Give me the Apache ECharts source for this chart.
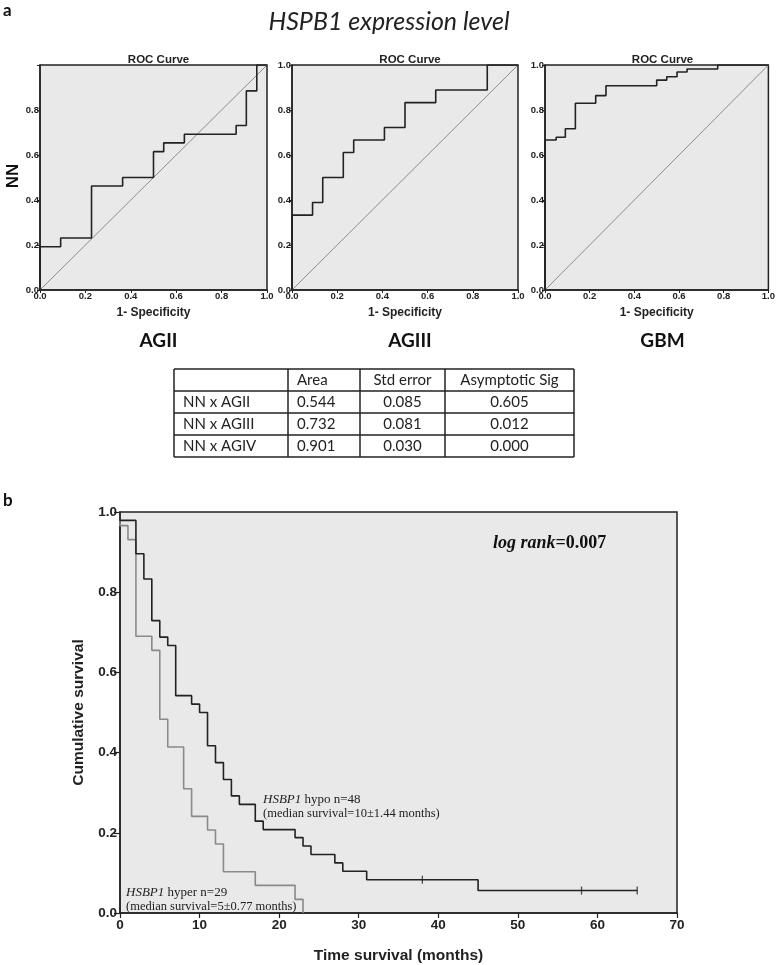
<!DOCTYPE html>
<html><head><meta charset="utf-8">
<script src="https://cdn.jsdelivr.net/npm/echarts@6/dist/echarts.min.js"></script>
<style>html,body{margin:0;padding:0;background:#fff}#c{width:778px;height:965px}</style>
</head><body><div id="c"></div>
<script>
// ---- ROC data (1-specificity, sensitivity) ----
const rocAGII_x = [0, 0, 0.091, 0.227, 0.364, 0.500, 0.545, 0.636, 0.864, 0.909, 0.955, 1.0];
const rocAGII_y = [0, 0.192, 0.231, 0.462, 0.500, 0.615, 0.654, 0.692, 0.731, 0.885, 1.0, 1.0];
const rocAGIII_x = [0, 0, 0.091, 0.136, 0.227, 0.273, 0.409, 0.500, 0.636, 0.864, 1.0];
const rocAGIII_y = [0, 0.333, 0.389, 0.500, 0.611, 0.667, 0.722, 0.833, 0.889, 1.0, 1.0];
const rocGBM_x = [0, 0, 0.050, 0.091, 0.136, 0.227, 0.273, 0.500, 0.545, 0.591, 0.636, 0.773, 1.0];
const rocGBM_y = [0, 0.667, 0.679, 0.717, 0.830, 0.864, 0.908, 0.933, 0.948, 0.969, 0.982, 1.0, 1.0];
const rocTitles = ['ROC Curve', 'ROC Curve', 'ROC Curve'];
const panelNames = ['AGII', 'AGIII', 'GBM'];

// ---- table ----
const tableHeader = ['', 'Area', 'Std error', 'Asymptotic Sig'];
const tableRowNames = ['NN x AGII', 'NN x AGIII', 'NN x AGIV'];
const tableArea = ['0.544', '0.732', '0.901'];
const tableStdErr = ['0.085', '0.081', '0.030'];
const tableSig = ['0.605', '0.012', '0.000'];

// ---- Kaplan-Meier data ----
const hypoTimes = [0, 0, 2, 3, 4, 5, 6, 7, 9, 10, 11, 12, 13, 14, 15, 17, 18, 22, 23, 24, 27, 28, 31, 45, 65];
const hypoSurv = [1.0, 0.979, 0.896, 0.833, 0.729, 0.688, 0.667, 0.542, 0.521, 0.500, 0.417, 0.375, 0.333, 0.292, 0.271, 0.229, 0.208, 0.188, 0.167, 0.146, 0.125, 0.104, 0.083, 0.056, 0.056];
const hyperTimes = [0, 0, 1, 2, 4, 5, 6, 8, 9, 11, 12, 13, 17, 22, 23];
const hyperSurv = [1.0, 0.966, 0.931, 0.690, 0.655, 0.483, 0.414, 0.310, 0.241, 0.207, 0.172, 0.103, 0.069, 0.034, 0];
const hypoCensorTimes = [38, 58, 65];
const hypoCensorSurv = [0.083, 0.056, 0.056];

const zip = (a, b) => a.map((v, i) => [v, b[i]]);

const rocSets = [[rocAGII_x, rocAGII_y], [rocAGIII_x, rocAGIII_y], [rocGBM_x, rocGBM_y]];
const rocGrids = [
  {left: 40, top: 65, width: 227, height: 225},
  {left: 292, top: 65, width: 226, height: 225},
  {left: 545, top: 65, width: 225, height: 225}
];
const ff = '"Liberation Sans", Arial, sans-serif';
const grids = rocGrids.map(g => Object.assign({show: true, backgroundColor: '#e9e9e9', borderColor: '#222', borderWidth: 1.5}, g));
grids.push({left: 120, top: 512, width: 557, height: 407, show: true, backgroundColor: '#e9e9e9', borderColor: '#222', borderWidth: 1.5});

const xAxes = [], yAxes = [], series = [];
rocGrids.forEach((g, i) => {
  xAxes.push({gridIndex: i, type: 'value', min: 0, max: 1, interval: 0.2,
    name: '1- Specificity', nameLocation: 'middle', nameGap: 17,
    nameTextStyle: {fontFamily: ff, fontWeight: 'bold', fontSize: 12, color: '#222'},
    axisLine: {lineStyle: {color: '#222', width: 1.5}}, axisTick: {length: 3, lineStyle: {color: '#222'}},
    axisLabel: {fontFamily: ff, fontWeight: 'bold', fontSize: 9.5, color: '#222', margin: 1, formatter: v => v.toFixed(1)},
    splitLine: {show: false}});
  yAxes.push({gridIndex: i, type: 'value', min: 0, max: 1, interval: 0.2,
    axisLine: {lineStyle: {color: '#222', width: 1.5}}, axisTick: {length: 3, lineStyle: {color: '#222'}},
    axisLabel: {fontFamily: ff, fontWeight: 'bold', fontSize: 9.5, color: '#222', margin: 1,
      formatter: v => (i === 0 && v === 1) ? '' : v.toFixed(1)},
    splitLine: {show: false}});
  series.push({type: 'line', xAxisIndex: i, yAxisIndex: i, data: [[0, 0], [1, 1]], symbol: 'none',
    lineStyle: {color: '#8c8c8c', width: 1}, silent: true, z: 2});
  series.push({type: 'line', xAxisIndex: i, yAxisIndex: i, step: 'end', data: zip(rocSets[i][0], rocSets[i][1]),
    symbol: 'none', lineStyle: {color: '#222', width: 1.6}, z: 3});
});
xAxes.push({gridIndex: 3, type: 'value', min: 0, max: 70, interval: 10,
  name: 'Time survival (months)', nameLocation: 'middle', nameGap: 35,
  nameTextStyle: {fontFamily: ff, fontWeight: 'bold', fontSize: 15.5, color: '#222'},
  axisLine: {lineStyle: {color: '#222', width: 1.5}}, axisTick: {length: 5, lineStyle: {color: '#222', width: 1.2}},
  axisLabel: {fontFamily: ff, fontWeight: 'bold', fontSize: 13.5, color: '#222', margin: 5},
  splitLine: {show: false}});
yAxes.push({gridIndex: 3, type: 'value', min: 0, max: 1, interval: 0.2,
  name: 'Cumulative survival', nameLocation: 'middle', nameGap: 33,
  nameTextStyle: {fontFamily: ff, fontWeight: 'bold', fontSize: 15.5, color: '#222'},
  axisLine: {lineStyle: {color: '#222', width: 1.5}}, axisTick: {length: 6, lineStyle: {color: '#222', width: 1.2}},
  axisLabel: {fontFamily: ff, fontWeight: 'bold', fontSize: 13.5, color: '#222', margin: 3, formatter: v => v.toFixed(1)},
  splitLine: {show: false}});
series.push({type: 'line', xAxisIndex: 3, yAxisIndex: 3, step: 'end', data: zip(hyperTimes, hyperSurv),
  symbol: 'none', lineStyle: {color: '#8a8a8a', width: 1.6}, z: 3});
series.push({type: 'line', xAxisIndex: 3, yAxisIndex: 3, step: 'end', data: zip(hypoTimes, hypoSurv),
  symbol: 'none', lineStyle: {color: '#222', width: 1.6}, z: 4});
series.push({type: 'scatter', xAxisIndex: 3, yAxisIndex: 3, data: zip(hypoCensorTimes, hypoCensorSurv),
  symbol: 'rect', symbolSize: [1.3, 8], itemStyle: {color: '#222'}, z: 5});

// titles
const titles = [
  {text: 'HSPB1 expression level', left: 'center', top: 4,
    textStyle: {fontFamily: 'Lato, "Open Sans", sans-serif', fontStyle: 'italic', fontWeight: 'normal', fontSize: 25, color: '#222'}}
];
rocGrids.forEach((g, i) => {
  titles.push({text: rocTitles[i], left: g.left + g.width / 2, top: 49, textAlign: 'center',
    textStyle: {fontFamily: ff, fontWeight: 'bold', fontSize: 11.5, color: '#222'}});
  titles.push({text: panelNames[i], left: g.left + g.width / 2, top: 326, textAlign: 'center',
    textStyle: {fontFamily: 'Lato, "Open Sans", sans-serif', fontWeight: 'bold', fontSize: 19, color: '#111'}});
});

// graphics: labels and table
const graphic = [];
graphic.push({type: 'text', left: 3, top: 2, style: {text: 'a', font: 'bold 17px Lato, sans-serif', fill: '#111'}});
graphic.push({type: 'text', left: 3, top: 492, style: {text: 'b', font: 'bold 17px Lato, sans-serif', fill: '#111'}});
graphic.push({type: 'text', x: 13, y: 176, rotation: Math.PI / 2,
  style: {text: 'NN', font: 'bold 17px ' + ff, fill: '#111', textAlign: 'center', textVerticalAlign: 'middle'}});

const colX = [174, 288, 360, 445, 574];
const rowY = [369, 391, 413, 435, 457];
colX.forEach(x => graphic.push({type: 'line', shape: {x1: x, y1: rowY[0], x2: x, y2: rowY[4]}, style: {stroke: '#222', lineWidth: 1.5}}));
rowY.forEach(y => graphic.push({type: 'line', shape: {x1: colX[0], y1: y, x2: colX[4], y2: y}, style: {stroke: '#222', lineWidth: 1.5}}));
const tFont = '15px Lato, "Open Sans", sans-serif';
const cellText = (txt, col, row, align) => {
  const x = align === 'left' ? colX[col] + 9 : (colX[col] + colX[col + 1]) / 2;
  graphic.push({type: 'text', x: x, y: (rowY[row] + rowY[row + 1]) / 2,
    style: {text: txt, font: tFont, fill: '#222', textAlign: align, textVerticalAlign: 'middle'}});
};
tableHeader.forEach((h, c) => { if (h) cellText(h, c, 0, c === 1 ? 'left' : 'center'); });
tableRowNames.forEach((n, r) => {
  cellText(n, 0, r + 1, 'left');
  cellText(tableArea[r], 1, r + 1, 'left');
  cellText(tableStdErr[r], 2, r + 1, 'center');
  cellText(tableSig[r], 3, r + 1, 'center');
});

const serif = '"Liberation Serif", "Times New Roman", serif';
graphic.push({type: 'text', x: 493, y: 543, style: {text: '{i|log rank}{b|=0.007}', textVerticalAlign: 'middle',
  rich: {i: {fontFamily: serif, fontStyle: 'italic', fontWeight: 'bold', fontSize: 18, fill: '#111'},
         b: {fontFamily: serif, fontWeight: 'bold', fontSize: 18, fill: '#111'}}}});
const annot = (x, y, l1a, l1b, l2) => {
  graphic.push({type: 'text', x: x, y: y, style: {text: '{i|' + l1a + '}{n|' + l1b + '}', textVerticalAlign: 'middle',
    rich: {i: {fontFamily: serif, fontStyle: 'italic', fontSize: 13, fill: '#222'}, n: {fontFamily: serif, fontSize: 13, fill: '#222'}}}});
  graphic.push({type: 'text', x: x, y: y + 14, style: {text: l2, textVerticalAlign: 'middle',
    font: '12.5px ' + serif, fill: '#222'}});
};
annot(263, 800, 'HSBP1', ' hypo n=48', '(median survival=10\u00b11.44 months)');
annot(126, 893, 'HSBP1', ' hyper n=29', '(median survival=5\u00b10.77 months)');

const chart = echarts.init(document.getElementById('c'), null, {renderer: 'canvas'});
chart.setOption({
  backgroundColor: '#fff', animation: false,
  title: titles, grid: grids, xAxis: xAxes, yAxis: yAxes, series: series, graphic: graphic
});
</script></body></html>
